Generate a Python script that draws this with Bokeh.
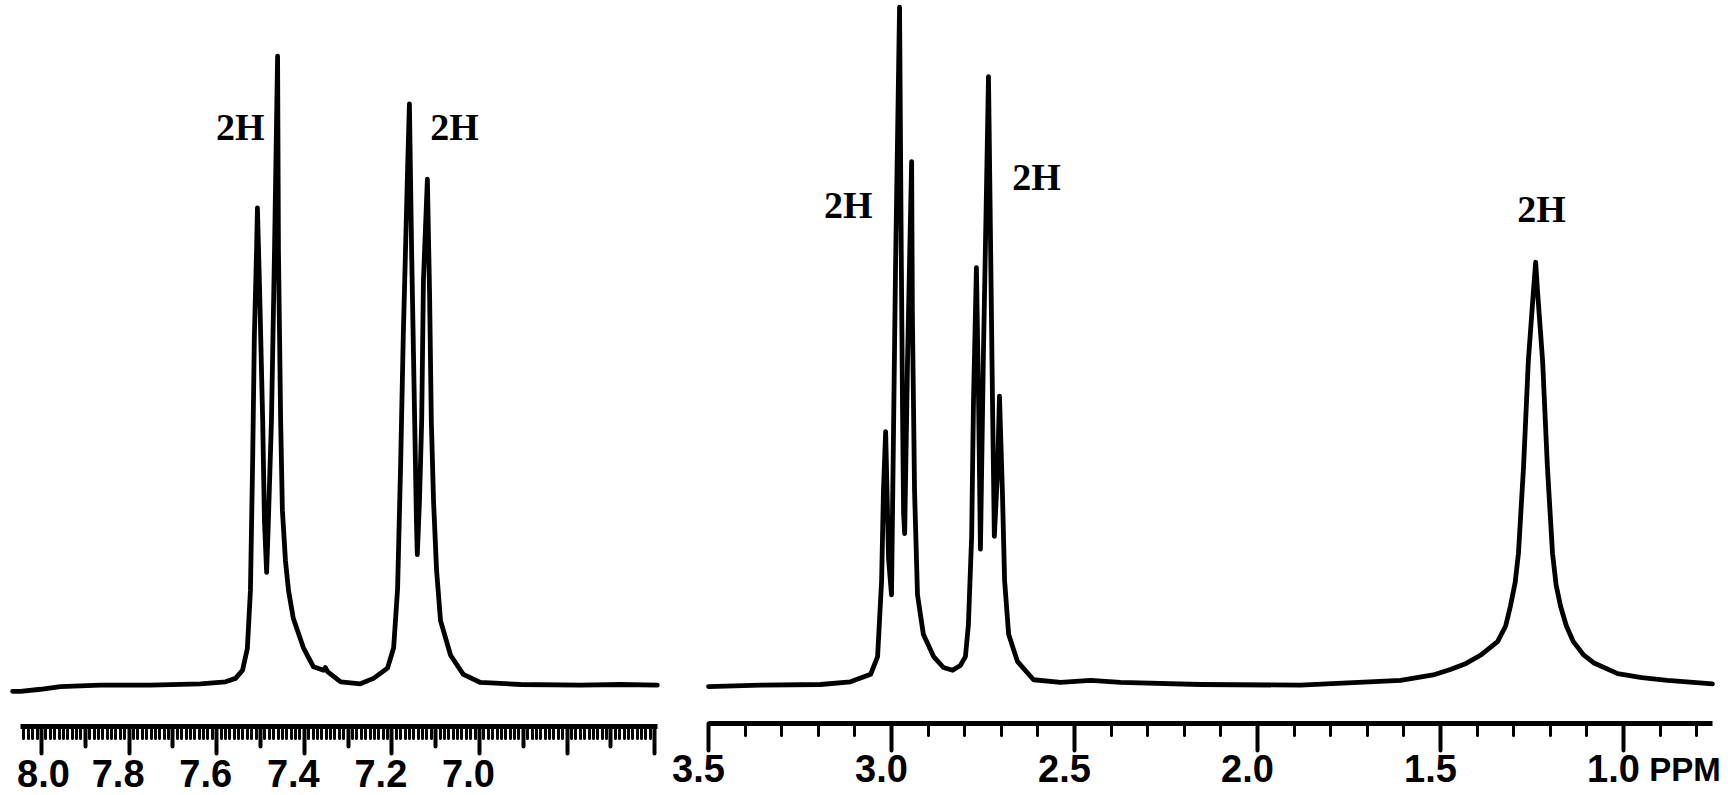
from bokeh.plotting import figure
from bokeh.models import (Range1d, FixedTicker, LinearAxis, CustomJSTickFormatter,
                          ColumnDataSource)
from bokeh.layouts import row
from bokeh.core.properties import value
from bokeh.embed import file_html
from bokeh.resources import INLINE

# ---------------- data ----------------
# aromatic region, chemical shift (ppm) and relative intensity
left_ppm = [8.066, 8.048, 8.002, 7.957, 7.865, 7.751, 7.637, 7.580, 7.557, 7.541,
            7.530, 7.523, 7.518, 7.514, 7.509, 7.507, 7.502, 7.495, 7.491, 7.486,
            7.482, 7.475, 7.468, 7.461, 7.459, 7.454, 7.450, 7.443, 7.436, 7.425,
            7.402, 7.379, 7.356, 7.352, 7.347, 7.317, 7.272, 7.242, 7.210, 7.196,
            7.187, 7.180, 7.174, 7.164, 7.160, 7.155, 7.148, 7.144, 7.142, 7.137,
            7.132, 7.128, 7.119, 7.114, 7.110, 7.105, 7.098, 7.089, 7.066, 7.037,
            6.998, 6.906, 6.769, 6.678, 6.594]
left_int = [-1.0, -1.0, -0.7, -0.3, -0.1, -0.1, 0.1, 0.4, 0.9, 2.1,
            5.3, 13.8, 32.6, 51.3, 63.8, 70.1, 57.9, 38.8, 24.1, 16.5,
            24.1, 38.8, 63.8, 92.4, 63.8, 38.8, 25.6, 18.2, 13.8, 9.7,
            5.4, 2.6, 2.1, 2.5, 1.9, 0.4, 0.1, 0.9, 2.4, 5.4,
            14.1, 32.6, 51.3, 76.2, 85.4, 63.8, 38.8, 24.1, 19.1, 27.1,
            38.8, 59.4, 74.3, 57.5, 38.8, 27.1, 16.8, 9.4, 4.3, 1.5,
            0.3, 0.0, -0.1, 0.0, -0.1]

# aliphatic region
right_ppm = [3.500, 3.358, 3.194, 3.112, 3.057, 3.038, 3.027, 3.022, 3.016, 3.008,
             3.000, 2.995, 2.989, 2.978, 2.973, 2.970, 2.967, 2.964, 2.956, 2.945,
             2.943, 2.937, 2.929, 2.913, 2.885, 2.858, 2.833, 2.812, 2.798, 2.790,
             2.781, 2.776, 2.768, 2.762, 2.757, 2.749, 2.740, 2.735, 2.730, 2.724,
             2.719, 2.710, 2.705, 2.697, 2.691, 2.680, 2.656, 2.612, 2.538, 2.456,
             2.374, 2.156, 1.883, 1.609, 1.520, 1.473, 1.430, 1.391, 1.344, 1.322,
             1.309, 1.296, 1.287, 1.273, 1.260, 1.246, 1.240, 1.235, 1.221, 1.208,
             1.194, 1.184, 1.172, 1.156, 1.137, 1.110, 1.082, 1.016, 0.950, 0.880,
             0.757]
right_int = [-0.3, -0.1, 0.0, 0.4, 1.5, 4.1, 15.3, 28.4, 37.2, 18.5,
             13.2, 35.0, 61.2, 99.6, 61.2, 41.5, 25.2, 22.2, 48.1, 76.9,
             54.7, 28.4, 13.2, 7.4, 4.1, 2.5, 2.1, 2.8, 4.1, 8.7,
             21.8, 41.5, 61.3, 41.5, 19.9, 48.1, 74.3, 89.4, 67.8, 41.5,
             21.8, 31.6, 42.4, 28.4, 15.3, 7.4, 3.4, 0.7, 0.3, 0.6,
             0.3, 0.0, -0.1, 0.6, 1.4, 2.2, 3.1, 4.3, 6.3, 8.6,
             11.5, 15.0, 19.3, 32.1, 47.6, 57.9, 62.1, 57.9, 47.6, 32.1,
             19.3, 14.6, 11.5, 8.6, 6.3, 4.4, 3.2, 1.6, 1.0, 0.6,
             0.1]

# integration labels
left_int_labels = ["2H", "2H"]
left_int_label_ppm = [7.546, 7.057]
left_int_label_y = [82.0, 82.0]
right_int_labels = ["2H", "2H", "2H"]
right_int_label_ppm = [3.118, 2.604, 1.224]
right_int_label_y = [70.5, 74.6, 70.0]

# axis tick labels
left_tick_values = [8.0, 7.8, 7.6, 7.4, 7.2, 7.0]
left_tick_labels = ["8.0", "7.8", "7.6", "7.4", "7.2", "7.0"]
right_tick_values = [3.5, 3.0, 2.5, 2.0, 1.5, 1.0]
right_tick_labels = ["3.5", "3.0", "2.5", "2.0", "1.5", "1.0"]
unit_label = "PPM"
unit_label_ppm = 0.832

# ---------------- layout ----------------
FIG_H = 795
PX_PER_UNIT = 6.8
BASELINE_PX = 684          # spectrum baseline, px from figure top
W1, W2 = 670, 1058
L_PX_PER_PPM, L_REF_PPM, L_REF_PX = 438.0, 8.0, 41.0
R_PX_PER_PPM, R_REF_PPM, R_REF_PX = 366.0, 3.5, 38.0
TEXT_SHIFT = 15            # svg text sits lower than its anchor by about this


def y_at(px):
    return (BASELINE_PX - px) / PX_PER_UNIT


def lppm(px):
    return L_REF_PPM - (px - L_REF_PX) / L_PX_PER_PPM


def rppm(px):
    return R_REF_PPM - (px - R_REF_PX) / R_PX_PER_PPM


empty = CustomJSTickFormatter(code="return ''")


def make_fig(width, xr):
    p = figure(width=width, height=FIG_H, x_range=xr,
               y_range=Range1d(y_at(FIG_H), y_at(0)),
               output_backend="svg", toolbar_location=None,
               x_axis_location=None, y_axis_location=None,
               min_border_left=0, min_border_right=0,
               min_border_top=0, min_border_bottom=0,
               outline_line_color=None, background_fill_color="white",
               border_fill_color="white")
    p.grid.visible = False
    return p


def add_axis(p, ticks, minor, bounds, y, major_out, minor_out, line=True):
    ax = LinearAxis(ticker=FixedTicker(ticks=ticks, minor_ticks=minor),
                    formatter=empty, fixed_location=y, bounds=bounds)
    ax.axis_line_width = 5 if line else 0
    ax.axis_line_color = "black" if line else None
    ax.major_tick_in = 0
    ax.major_tick_out = major_out
    ax.major_tick_line_width = 4
    ax.major_tick_line_cap = "round"
    ax.minor_tick_in = 0
    ax.minor_tick_out = minor_out
    ax.minor_tick_line_width = 3
    ax.minor_tick_line_cap = "round"
    ax.major_label_standoff = 0
    ax.major_label_text_font_size = "1px"
    p.add_layout(ax, "below")


tick_font = value("Liberation Sans")
label_font = value("Liberation Serif")

# ---- left panel ----
p1 = make_fig(W1, Range1d(lppm(0), lppm(W1)))
l_bounds = (lppm(657), lppm(20))
l_axis_y = y_at(726)
l_even = [round(8.0 - 0.2 * i, 1) for i in range(8)]
l_odd = [round(7.9 - 0.2 * i, 1) for i in range(7)]
l_minor = [round(8.04 - 0.01 * i, 2) for i in range(145)]
add_axis(p1, l_even, l_minor, l_bounds, l_axis_y, 27, 12)
add_axis(p1, l_odd, [], l_bounds, l_axis_y, 20, 0, line=False)

p1.line(left_ppm, left_int, line_width=4.8, line_color="black",
        line_join="round", line_cap="round")
p1.text(x=left_int_label_ppm, y=left_int_label_y, text=left_int_labels,
        text_font=label_font, text_font_style="bold", text_font_size="38px",
        text_align="center", text_baseline="alphabetic", text_color="black")
l_src = ColumnDataSource(dict(x=left_tick_values, text=left_tick_labels,
                              y=[y_at(788 - TEXT_SHIFT)] * len(left_tick_values),
                              dx=[2] + [-11] * (len(left_tick_values) - 1)))
p1.text(x="x", y="y", text="text", source=l_src, x_offset="dx",
        text_font=tick_font, text_font_style="bold", text_font_size="38px",
        text_align="center", text_baseline="alphabetic", text_color="black")

# ---- right panel ----
p2 = make_fig(W2, Range1d(rppm(0), rppm(W2)))
r_bounds = (rppm(1042), R_REF_PPM)
r_axis_y = y_at(723)
r_major = [round(3.5 - 0.5 * i, 1) for i in range(6)]
r_minor = [round(3.5 - 0.1 * i, 1) for i in range(28)]
add_axis(p2, r_major, r_minor, r_bounds, r_axis_y, 27, 12)

p2.line(right_ppm, right_int, line_width=4.8, line_color="black",
        line_join="round", line_cap="round")
p2.text(x=right_int_label_ppm, y=right_int_label_y, text=right_int_labels,
        text_font=label_font, text_font_style="bold", text_font_size="38px",
        text_align="center", text_baseline="alphabetic", text_color="black")
r_src = ColumnDataSource(dict(x=right_tick_values, text=right_tick_labels,
                              y=[y_at(783 - TEXT_SHIFT)] * len(right_tick_values)))
p2.text(x="x", y="y", text="text", source=r_src, x_offset=-10,
        text_font=tick_font, text_font_style="bold", text_font_size="38px",
        text_align="center", text_baseline="alphabetic", text_color="black")
p2.text(x=[unit_label_ppm], y=[y_at(783 - TEXT_SHIFT + 1)], text=[unit_label],
        text_font=tick_font,
        text_font_style="bold", text_font_size="33px",
        text_align="center", text_baseline="alphabetic", text_color="black")

layout = row(p1, p2)
open("out.html", "w").write(file_html(layout, INLINE))
